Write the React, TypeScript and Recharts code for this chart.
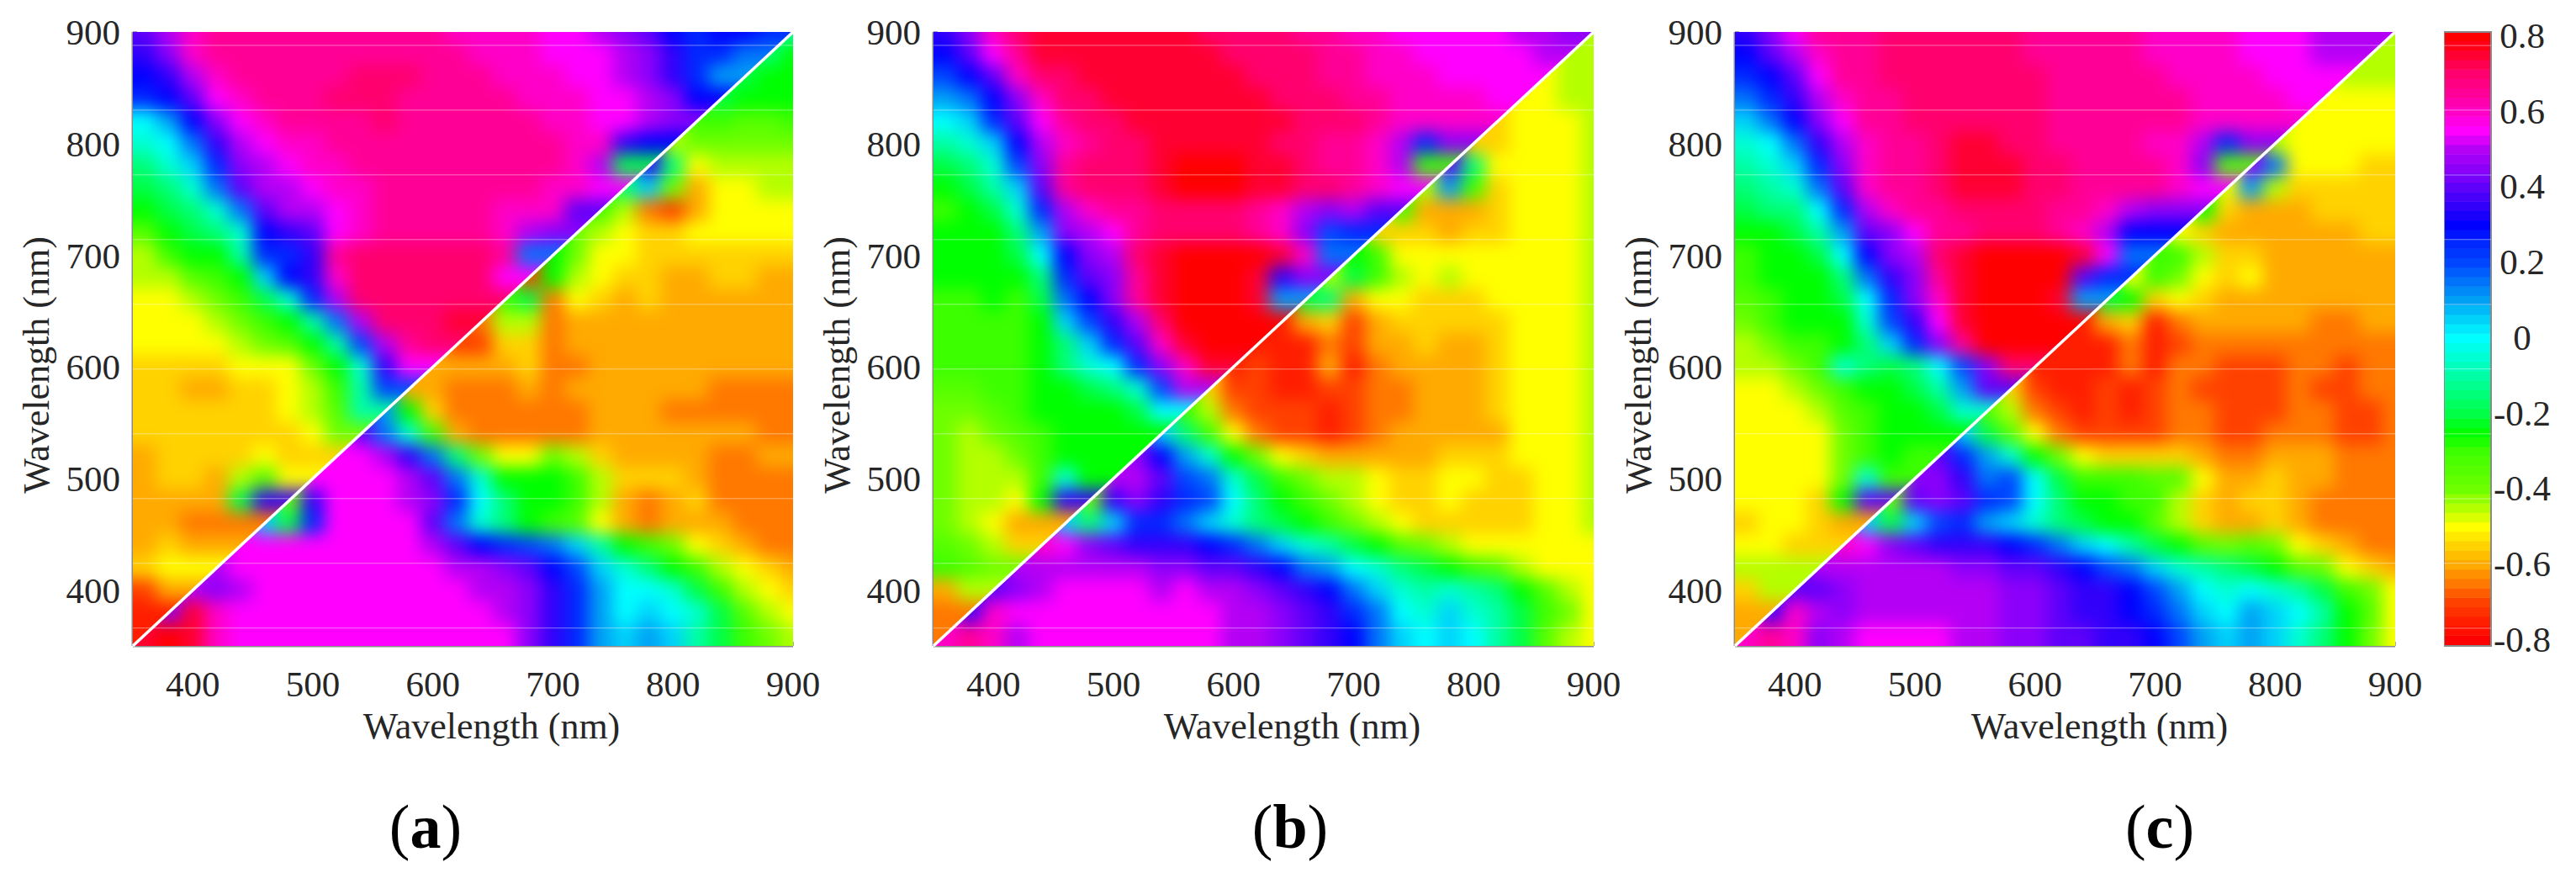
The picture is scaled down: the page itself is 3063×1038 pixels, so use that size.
import React from "react";
import { ScatterChart, Scatter, XAxis, YAxis, ReferenceLine, ReferenceArea, Label } from "recharts";

// cell centres in nm, 20 nm apart
const columnsNm = [360,380,400,420,440,460,480,500,520,540,560,580,600,620,640,660,680,700,720,740,760,780,800,820,840,860,880,900];
const rowsNm = [900,880,860,840,820,800,780,760,740,720,700,680,660,640,620,600,580,560,540,520,500,480,460,440,420,400,380,360];
const axisTicks = [400,500,600,700,800,900];
const barTicks = [0.8,0.6,0.4,0.2,0,-0.2,-0.4,-0.6,-0.8];
// the source image has faint white scan lines at these heights
const scanLinesNm = [888,830,772,714,656,598,540,482,424,366];
const scanLinesBar = [0.775,0.604,0.432,0.261,0.089,-0.082,-0.254,-0.426,-0.597,-0.769];
const barLevels = [-0.8,-0.775,-0.75,-0.725,-0.7,-0.675,-0.65,-0.625,-0.6,-0.575,-0.55,-0.525,-0.5,-0.475,-0.45,-0.425,-0.4,-0.375,-0.35,-0.325,-0.3,-0.275,-0.25,-0.225,-0.2,-0.175,-0.15,-0.125,-0.1,-0.075,-0.05,-0.025,0,0.025,0.05,0.075,0.1,0.125,0.15,0.175,0.2,0.225,0.25,0.275,0.3,0.325,0.35,0.375,0.4,0.425,0.45,0.475,0.5,0.525,0.55,0.575,0.6,0.625,0.65,0.675,0.7,0.725,0.75,0.775,0.8];

// rows top to bottom, values in steps of 0.05 (12 = 0.6)
const panelA = [
[8,10,12,13,13,13,13,13,13,13,13,13,13,12,12,12,12,11,11,10,9,8,6,5,6,6,5,-2],
[7,9,12,13,13,13,13,13,13,13,13,13,13,13,12,12,12,11,11,11,10,9,7,5,5,3,-3,-5],
[6,7,10,12,13,13,13,13,13,14,14,14,13,13,13,12,12,12,11,11,10,9,7,5,2,-4,-5,-5],
[5,6,8,11,12,13,13,13,14,14,14,13,13,13,13,13,12,12,12,11,11,10,9,6,-4,-5,-5,-5],
[0,2,6,9,11,12,13,13,13,13,14,13,13,13,13,13,13,12,12,11,11,10,9,-6,-6,-7,-7,-6],
[-1,0,3,7,10,11,12,12,13,13,13,13,13,13,13,13,13,13,12,12,7,6,-9,-8,-8,-8,-8,-8],
[-3,-1,1,5,9,10,11,12,12,13,13,13,13,13,13,13,13,13,12,10,-4,7,-3,-10,-9,-9,-9,-9],
[-4,-3,-1,3,8,10,10,11,12,12,13,13,13,13,13,13,13,12,12,11,-3,1,-8,-12,-10,-10,-9,-9],
[-5,-4,-3,-1,3,8,10,10,11,12,13,13,13,13,13,12,12,12,8,-6,-9,-13,-14,-12,-10,-10,-10,-10],
[-7,-5,-4,-3,-1,6,7,8,11,12,13,13,13,13,13,12,10,9,-8,-9,-10,-11,-11,-10,-10,-10,-10,-10],
[-9,-6,-5,-5,-2,5,5,7,13,14,14,14,14,14,14,13,3,-5,-8,-10,-10,-11,-11,-11,-11,-11,-11,-11],
[-9,-9,-7,-6,-5,1,6,7,12,14,14,14,14,14,14,11,-14,-5,-9,-10,-11,-11,-12,-12,-11,-11,-12,-12],
[-10,-10,-9,-8,-6,-4,-1,5,10,14,14,14,14,14,14,-6,-4,-13,-10,-11,-12,-11,-12,-12,-12,-12,-12,-12],
[-10,-10,-10,-9,-8,-6,-5,-2,3,10,14,14,14,15,-13,-9,-9,-13,-12,-12,-12,-12,-12,-12,-12,-12,-12,-12],
[-10,-10,-10,-10,-9,-8,-7,-5,-2,4,10,13,14,-14,-14,-11,-11,-13,-12,-12,-12,-12,-12,-12,-12,-12,-12,-12],
[-11,-11,-11,-11,-10,-10,-10,-8,-5,-1,7,11,-12,-12,-12,-12,-11,-13,-13,-12,-12,-12,-12,-12,-12,-12,-12,-12],
[-11,-11,-12,-12,-11,-11,-10,-9,-6,-2,4,-12,-12,-13,-13,-13,-12,-13,-12,-12,-12,-12,-12,-12,-13,-13,-13,-13],
[-11,-11,-11,-11,-11,-11,-10,-9,-7,-2,2,-5,-11,-13,-13,-13,-13,-13,-13,-12,-12,-12,-13,-13,-13,-13,-13,-13],
[-11,-11,-11,-11,-11,-11,-11,-10,-8,8,3,-1,-6,-12,-13,-13,-13,-13,-13,-12,-12,-12,-12,-12,-12,-12,-13,-13],
[-12,-11,-11,-11,-11,-10,-11,-11,11,11,10,7,3,-3,-8,-10,-10,-8,-9,-11,-12,-12,-12,-12,-13,-13,-12,-12],
[-12,-11,-11,-12,-9,-7,-10,11,11,11,11,10,8,3,-1,-5,-5,-5,-6,-9,-11,-11,-11,-12,-13,-13,-13,-13],
[-12,-12,-12,-12,-4,7,-8,7,11,11,11,10,9,5,0,-3,-5,-5,-6,-9,-12,-13,-12,-11,-13,-13,-13,-13],
[-12,-12,-13,-13,-13,1,-4,5,11,11,11,11,8,3,-1,-3,-5,-6,-7,-10,-12,-13,-12,-12,-12,-13,-13,-13],
[-12,-11,-12,-12,11,11,11,11,11,11,11,11,10,8,6,5,4,3,1,-2,-5,-6,-8,-10,-11,-12,-13,-13],
[-11,-10,-10,10,11,11,11,11,11,11,11,11,11,10,10,9,8,6,4,1,-1,-3,-5,-6,-9,-10,-11,-12],
[-14,-12,10,9,10,11,11,11,11,11,11,11,11,11,10,10,9,7,5,2,0,0,-1,-4,-6,-9,-10,-11],
[-15,9,15,12,11,11,11,11,11,11,11,11,11,11,11,10,9,7,5,2,0,1,0,-1,-4,-7,-9,-10],
[15,16,15,12,11,11,11,11,11,11,11,11,11,11,11,11,9,7,5,2,1,2,1,-2,-4,-6,-8,-9],
];

const panelB = [
[7,9,12,14,15,15,15,15,15,15,15,14,14,14,14,13,13,12,12,11,11,11,11,11,10,10,9,-9],
[6,8,11,13,15,15,15,15,15,15,15,15,14,14,14,14,13,13,12,12,11,11,11,11,11,10,-9,-9],
[4,6,8,12,14,14,15,15,15,15,15,15,15,14,14,14,13,13,12,12,12,11,11,11,11,-10,-9,-9],
[2,3,6,9,12,14,14,15,15,15,15,15,15,15,14,14,14,13,13,12,12,12,12,11,-10,-10,-9,-9],
[0,1,5,8,11,13,14,14,15,15,15,15,15,15,15,14,14,14,13,12,12,12,12,-11,-10,-10,-10,-9],
[-2,-1,1,6,10,12,13,14,14,15,15,15,15,15,14,14,13,13,12,10,5,9,-11,-11,-10,-10,-10,-9],
[-4,-3,-1,4,9,13,14,14,14,15,16,16,16,15,15,14,13,13,12,10,-6,8,-3,-10,-10,-10,-10,-9],
[-5,-4,-2,1,8,13,14,14,14,15,16,16,16,15,15,14,14,13,12,11,-9,2,-6,-11,-10,-10,-10,-9],
[-6,-5,-4,-1,5,10,12,13,13,14,14,14,14,13,12,10,9,10,8,-6,-12,-12,-12,-11,-10,-10,-10,-9],
[-5,-5,-5,-3,2,9,10,11,13,14,14,14,14,13,12,9,4,5,-11,-11,-11,-12,-11,-11,-10,-10,-10,-9],
[-5,-5,-5,-4,0,6,9,10,14,15,16,16,16,16,15,12,3,-5,-6,-10,-10,-10,-10,-10,-10,-10,-10,-9],
[-5,-5,-5,-5,-3,5,8,9,13,15,16,16,16,15,7,9,-9,-4,-6,-9,-10,-9,-10,-10,-10,-10,-10,-9],
[-6,-6,-5,-6,-4,3,6,9,13,15,16,16,16,15,2,-4,-3,-12,-10,-10,-11,-11,-11,-10,-10,-10,-10,-9],
[-6,-6,-6,-6,-5,1,4,7,10,14,16,16,16,16,-15,-12,-11,-14,-12,-11,-11,-11,-11,-11,-10,-10,-10,-9],
[-6,-6,-6,-6,-5,-3,1,5,8,12,15,16,16,-15,-15,-15,-13,-14,-12,-12,-11,-12,-12,-11,-10,-10,-10,-9],
[-6,-6,-6,-6,-5,-3,-1,0,5,9,12,15,-15,-14,-15,-15,-12,-15,-13,-12,-12,-12,-12,-11,-10,-10,-10,-9],
[-7,-7,-6,-6,-5,-5,-4,-3,-1,4,10,-11,-14,-14,-15,-15,-14,-14,-13,-13,-12,-12,-12,-11,-10,-10,-10,-9],
[-8,-8,-7,-6,-5,-5,-5,-5,-4,0,-6,-9,-13,-14,-14,-14,-15,-14,-13,-13,-12,-12,-12,-11,-10,-10,-10,-9],
[-8,-9,-8,-7,-6,-5,-5,-5,-5,1,-3,-6,-10,-13,-14,-14,-15,-14,-13,-12,-12,-12,-12,-12,-10,-10,-10,-9],
[-8,-9,-9,-8,-6,-5,-5,-5,9,6,2,-1,-5,-8,-10,-11,-12,-12,-12,-12,-12,-11,-11,-11,-10,-10,-10,-9],
[-8,-9,-9,-9,-6,-1,-5,10,10,8,4,3,-1,-4,-6,-8,-9,-9,-10,-11,-11,-10,-10,-11,-11,-10,-10,-9],
[-8,-9,-9,-10,-5,7,-8,7,9,7,5,4,0,-3,-5,-6,-8,-9,-10,-11,-11,-10,-11,-11,-11,-10,-10,-9],
[-8,-9,-10,-12,-12,1,-3,1,5,5,3,1,-1,-3,-4,-5,-6,-8,-9,-10,-11,-11,-11,-11,-11,-10,-10,-9],
[-7,-8,-9,-11,12,11,9,8,7,7,7,6,5,3,1,-1,-2,-4,-5,-7,-8,-9,-10,-10,-10,-10,-10,-10],
[-6,-7,-8,10,10,10,10,10,10,9,9,8,8,7,6,3,2,0,-1,-3,-4,-5,-6,-7,-9,-10,-10,-10],
[-12,-9,8,9,10,11,11,11,11,10,11,10,10,9,8,7,6,3,1,-1,-2,-1,-2,-3,-5,-7,-9,-10],
[-13,7,12,11,11,11,11,11,11,11,11,11,10,10,9,8,7,5,3,0,-1,1,-1,-2,-4,-6,-8,-10],
[12,13,12,10,11,11,11,11,11,11,11,11,10,10,9,8,7,6,3,1,0,1,0,-2,-4,-7,-9,-10],
];

const panelC = [
[7,9,11,13,13,13,14,14,14,14,14,14,13,13,13,13,13,12,12,12,12,11,11,11,10,10,10,-9],
[6,8,10,12,13,13,14,14,14,14,14,14,13,13,13,13,13,12,12,12,12,11,11,11,10,10,-9,-9],
[5,6,8,11,13,13,14,14,14,14,14,14,14,13,13,13,13,13,12,12,12,12,11,11,11,-9,-9,-9],
[3,5,7,10,12,13,13,14,14,14,14,14,14,13,13,13,13,13,13,12,12,12,12,11,-10,-10,-10,-10],
[1,3,6,9,11,13,13,14,14,14,14,14,14,13,13,13,13,13,13,12,12,12,12,-10,-10,-10,-10,-10],
[-1,0,3,7,10,12,13,13,14,15,15,14,14,13,13,13,13,12,12,10,5,9,-9,-10,-10,-10,-10,-10],
[-2,-1,1,5,9,12,13,13,14,15,15,15,14,14,13,13,13,13,12,9,-7,9,3,-10,-10,-10,-11,-11],
[-3,-2,-1,3,8,12,13,13,14,15,15,15,14,14,13,13,13,13,12,11,-10,2,-9,-11,-11,-11,-11,-11],
[-4,-3,-3,0,5,10,12,13,13,14,14,14,14,13,13,12,10,9,9,-5,-11,-12,-12,-12,-11,-11,-11,-11],
[-5,-5,-4,-2,2,8,9,11,13,13,14,14,14,13,12,10,6,6,-10,-11,-12,-12,-12,-12,-12,-12,-11,-11],
[-6,-5,-5,-4,0,6,9,10,14,15,16,16,16,16,15,11,3,-6,-6,-9,-11,-11,-12,-12,-12,-12,-12,-12],
[-6,-5,-5,-5,-3,3,7,9,13,15,16,16,16,16,8,5,-10,-6,-8,-10,-11,-10,-12,-12,-12,-12,-12,-12],
[-7,-6,-5,-5,-4,0,5,9,12,15,16,16,16,15,2,-4,-5,-11,-10,-11,-12,-12,-12,-12,-12,-12,-12,-12],
[-8,-6,-5,-5,-5,-1,4,7,11,15,16,16,16,16,-15,-12,-11,-15,-13,-12,-12,-12,-12,-12,-13,-13,-12,-12],
[-9,-8,-6,-6,-5,-3,1,5,9,13,16,16,16,-15,-15,-15,-13,-15,-14,-13,-13,-13,-13,-13,-13,-13,-13,-13],
[-9,-9,-8,-6,-1,-3,-4,-3,0,4,9,14,-15,-15,-15,-15,-13,-15,-13,-13,-14,-14,-14,-13,-13,-14,-13,-13],
[-10,-10,-9,-8,-6,-5,-5,-4,-2,2,8,-11,-14,-15,-15,-14,-15,-14,-13,-14,-14,-14,-14,-13,-14,-14,-13,-13],
[-10,-10,-10,-9,-7,-6,-5,-5,-4,-1,-7,-9,-13,-14,-15,-14,-15,-14,-13,-13,-14,-14,-14,-13,-13,-14,-14,-13],
[-10,-10,-10,-10,-8,-6,-5,-5,-5,1,-4,-7,-10,-13,-14,-14,-14,-14,-13,-13,-14,-14,-13,-13,-13,-14,-14,-13],
[-10,-10,-10,-10,-8,-6,-5,-6,8,5,2,-1,-5,-8,-10,-11,-11,-11,-11,-12,-13,-13,-12,-12,-12,-13,-13,-13],
[-10,-10,-10,-10,-8,-1,-6,9,9,7,3,4,0,-4,-6,-6,-6,-7,-7,-10,-12,-12,-11,-12,-12,-13,-13,-13],
[-10,-10,-10,-11,-5,8,-8,8,9,8,5,4,0,-3,-5,-5,-6,-6,-9,-11,-12,-11,-11,-12,-13,-13,-13,-13],
[-11,-10,-10,-11,-12,1,-4,1,4,5,2,1,-1,-3,-4,-5,-5,-7,-9,-11,-12,-12,-11,-12,-13,-13,-13,-13],
[-10,-10,-11,-11,12,11,9,8,7,7,7,6,5,3,1,0,-2,-4,-5,-7,-8,-7,-8,-10,-11,-12,-13,-13],
[-9,-9,-9,10,10,10,10,10,10,9,9,8,8,7,6,4,3,1,-1,-2,-3,-4,-5,-7,-8,-10,-11,-12],
[-11,-9,8,8,9,10,10,10,10,10,10,9,9,8,7,7,6,4,2,0,-1,0,-1,-2,-4,-6,-8,-10],
[-12,7,12,10,9,10,10,10,10,10,10,9,9,8,7,7,6,5,3,1,0,2,1,0,-2,-5,-7,-10],
[12,13,12,9,10,11,11,11,11,10,10,9,9,8,8,7,7,6,4,2,1,2,1,-1,-3,-5,-8,-10],
];

// colour for each 0.05 step from -0.8 to 0.8, picked off the colour bar
const colorSteps = [
[255,0,0],[255,30,0],[255,65,0],[255,120,0],[255,170,0],[255,210,0],[255,255,0],[180,255,0],[110,255,0],[85,255,0],[60,255,0],
[0,255,0],[0,255,70],[0,255,120],[0,255,165],[0,255,210],[0,255,255],[0,210,250],[0,160,245],[0,115,250],[0,70,255],[0,40,255],
[0,0,255],[50,0,250],[95,0,250],[140,0,250],[180,0,245],[255,0,255],[255,0,200],[255,0,150],[255,0,110],[255,0,50],[255,0,0],
];

const stepColor = (step: number) => {
  const pos = Math.max(0, Math.min(32, step + 16));
  const lo = Math.floor(pos);
  const hi = Math.min(32, lo + 1);
  const t = pos - lo;
  const c = colorSteps[lo].map((v, i) => Math.round(v + (colorSteps[hi][i] - v) * t));
  return `rgb(${c[0]},${c[1]},${c[2]})`;
};

const FONT = "Liberation Serif";
const TEXT = "#262626";
const PLOT_W = 785;
const PLOT_H = 730;
const PLOT_TOP = 38;
const AXIS_W = 150;
const CHART_H = 900;
const CELL_W = (PLOT_W * 20) / 550;
const CELL_H = (PLOT_H * 20) / 550;
const tickStyle = { fontFamily: FONT, fontSize: 43, fill: TEXT };

type Cell = { x: number; y: number; step: number };

const cellsOf = (panel: number[][], keep: (x: number, y: number) => boolean) => {
  const out: Cell[] = [];
  panel.forEach((row, r) =>
    row.forEach((step, c) => {
      if (keep(columnsNm[c], rowsNm[r])) out.push({ x: columnsNm[c], y: rowsNm[r], step });
    })
  );
  return out;
};

// cells reach past the plot edge and past the diagonal so the blur has no pale rim
const cellShape = (props: any) => {
  const { cx, cy, payload } = props;
  const { x, y, step } = payload as Cell;
  let left = cx - CELL_W / 2 - 0.5;
  let right = cx + CELL_W / 2 + 0.5;
  let top = cy - CELL_H / 2 - 0.5;
  let bottom = cy + CELL_H / 2 + 0.5;
  if (x === 360) left -= 40;
  if (x === 900) right += 40;
  if (y === 900) top -= 40;
  if (y === 360) bottom += 40;
  if (y - x === 20) {
    right += CELL_W * 2.5;
    bottom += CELL_H * 2.5;
  }
  if (y === x) {
    left -= CELL_W * 2.5;
    top -= CELL_H * 2.5;
  }
  return <rect x={left} y={top} width={right - left} height={bottom - top} fill={stepColor(step)} />;
};

const barShape = (props: any) => {
  const { cx, cy, payload } = props;
  const h = 0.025 * 446;
  const up = payload.level === 0.8 ? 6 : 0;
  const down = payload.level === -0.8 ? 6 : 0;
  return (
    <rect x={cx - 28} y={cy - h / 2 - up} width={56} height={h + 0.6 + up + down} fill={stepColor(payload.level / 0.05)} />
  );
};

const barTick = (props: any) => {
  const { x, y, payload } = props;
  return (
    <text x={x + 41} y={y + 14} textAnchor="middle" fontFamily={FONT} fontSize={43} fill={TEXT}>
      {payload.value}
    </text>
  );
};

const xTitle = (shift: number) => (props: any) => {
  const { x, width } = props.viewBox;
  return (
    <text x={x + width / 2 + shift} y={PLOT_TOP + PLOT_H + 110} textAnchor="middle" fontFamily={FONT} fontSize={44} fill={TEXT}>
      Wavelength (nm)
    </text>
  );
};

const yTitle = () => {
  const cx = AXIS_W - 110;
  const cy = 434;
  return (
    <text x={cx} y={cy} textAnchor="middle" transform={`rotate(-90 ${cx} ${cy})`} dominantBaseline="middle" fontFamily={FONT} fontSize={44} fill={TEXT}>
      Wavelength (nm)
    </text>
  );
};

function Panel({ id, data, left, titleShift }: { id: string; data: number[][]; left: number; titleShift: number }) {
  const upper = cellsOf(data, (x, y) => y > x);
  const lower = cellsOf(data, (x, y) => y <= x);
  const width = AXIS_W + PLOT_W + 50;
  return (
    <>
      <div style={{ position: "absolute", left: left - AXIS_W, top: 0 }}>
        <ScatterChart width={width} height={CHART_H} margin={{ top: PLOT_TOP, right: 50, bottom: 0, left: 0 }}>
          <XAxis
            type="number"
            dataKey="x"
            domain={[350, 900]}
            ticks={axisTicks}
            height={CHART_H - PLOT_TOP - PLOT_H}
            tick={tickStyle}
            tickSize={-5}
            tickMargin={34}
            tickLine={{ stroke: "#555" }}
            axisLine={{ stroke: "#8a8a8a", strokeWidth: 3 }}
            interval={0}
          >
            <Label content={xTitle(titleShift)} />
          </XAxis>
          <YAxis
            type="number"
            dataKey="y"
            domain={[350, 900]}
            ticks={axisTicks}
            width={AXIS_W}
            tick={tickStyle}
            tickSize={-5}
            tickMargin={20}
            tickLine={{ stroke: "#555" }}
            axisLine={{ stroke: "#8a8a8a", strokeWidth: 3 }}
            interval={0}
          >
            <Label content={yTitle} />
          </YAxis>
          <Scatter className={`${id}-upper`} data={upper} shape={cellShape} isAnimationActive={false} />
          <Scatter className={`${id}-lower`} data={lower} shape={cellShape} isAnimationActive={false} />
        </ScatterChart>
      </div>
      {/* reference lines sit under the filtered cells, so they get their own chart on top */}
      <div style={{ position: "absolute", left: left - AXIS_W, top: 0 }}>
        <ScatterChart
          width={width}
          height={CHART_H}
          margin={{ top: PLOT_TOP, right: 50, bottom: CHART_H - PLOT_TOP - PLOT_H, left: AXIS_W }}
        >
          <XAxis type="number" dataKey="x" domain={[350, 900]} allowDataOverflow hide />
          <YAxis type="number" dataKey="y" domain={[350, 900]} allowDataOverflow hide />
          {scanLinesNm.map((y) => (
            <ReferenceLine key={y} y={y} stroke="#fff" strokeOpacity={0.45} strokeWidth={1} />
          ))}
          <ReferenceLine segment={[{ x: 350, y: 350 }, { x: 900, y: 900 }]} stroke="#fff" strokeWidth={3.5} />
        </ScatterChart>
      </div>
    </>
  );
}

const panels = [
  { id: "a", data: panelA, left: 158, titleShift: 34 },
  { id: "b", data: panelB, left: 1110, titleShift: 34 },
  { id: "c", data: panelC, left: 2063, titleShift: 41 },
];

const captions = [
  { letter: "a", x: 506 },
  { letter: "b", x: 1534 },
  { letter: "c", x: 2568 },
];

const L = AXIS_W;
const R = AXIS_W + PLOT_W;
const T = PLOT_TOP;
const B = PLOT_TOP + PLOT_H;

const css = `
body { margin: 0; background: #fff; }
${panels
  .map(
    (p) => `.${p.id}-upper { filter: url(#soften); clip-path: url(#upper-tri); }
.${p.id}-lower { filter: url(#soften); clip-path: url(#lower-tri); }`
  )
  .join("\n")}
`;

export default function App() {
  const bar = barLevels.map((level) => ({ x: 0.5, y: level, level }));
  const barMargin = { top: PLOT_TOP, right: 0, bottom: CHART_H - PLOT_TOP - PLOT_H, left: 0 };
  return (
    <div style={{ position: "relative", width: 3063, height: 1038, overflow: "hidden", background: "#fff" }}>
      <style>{css}</style>
      <svg width={0} height={0} style={{ position: "absolute" }}>
        <defs>
          <filter id="soften" filterUnits="userSpaceOnUse" x={-200} y={-200} width={1400} height={1400} colorInterpolationFilters="sRGB">
            <feGaussianBlur stdDeviation={10} />
          </filter>
          <clipPath id="upper-tri" clipPathUnits="userSpaceOnUse">
            <polygon points={`${L},${T} ${R},${T} ${L},${B}`} />
          </clipPath>
          <clipPath id="lower-tri" clipPathUnits="userSpaceOnUse">
            <polygon points={`${R},${T} ${R},${B} ${L},${B}`} />
          </clipPath>
        </defs>
      </svg>
      {panels.map((p) => (
        <Panel key={p.id} {...p} />
      ))}
      <div style={{ position: "absolute", left: 2906, top: 0 }}>
        <ScatterChart width={157} height={CHART_H} margin={barMargin}>
          <XAxis type="number" dataKey="x" domain={[0, 1]} hide />
          <YAxis
            type="number"
            dataKey="y"
            domain={[-0.816, 0.811]}
            ticks={barTicks}
            orientation="right"
            width={101}
            tick={barTick}
            tickSize={-6}
            tickLine={{ stroke: "#555" }}
            axisLine={false}
            interval={0}
            allowDataOverflow
          />
          <Scatter data={bar} shape={barShape} isAnimationActive={false} />
        </ScatterChart>
      </div>
      <div style={{ position: "absolute", left: 2906, top: 0 }}>
        <ScatterChart width={157} height={CHART_H} margin={{ ...barMargin, right: 101 }}>
          <XAxis type="number" dataKey="x" domain={[0, 1]} allowDataOverflow hide />
          <YAxis type="number" dataKey="y" domain={[-0.816, 0.811]} allowDataOverflow hide />
          <ReferenceArea x1={0} x2={1} y1={-0.816} y2={0.811} fill="none" stroke="#8a8a8a" strokeWidth={2} />
          {scanLinesBar.map((y) => (
            <ReferenceLine key={y} y={y} stroke="#fff" strokeOpacity={0.45} strokeWidth={1} />
          ))}
        </ScatterChart>
      </div>
      {captions.map((c) => (
        <div
          key={c.letter}
          style={{ position: "absolute", left: c.x, top: 945, transform: "translateX(-50%)", fontFamily: FONT, fontSize: 74, lineHeight: "76px", color: "#000" }}
        >
          (<b>{c.letter}</b>)
        </div>
      ))}
    </div>
  );
}
